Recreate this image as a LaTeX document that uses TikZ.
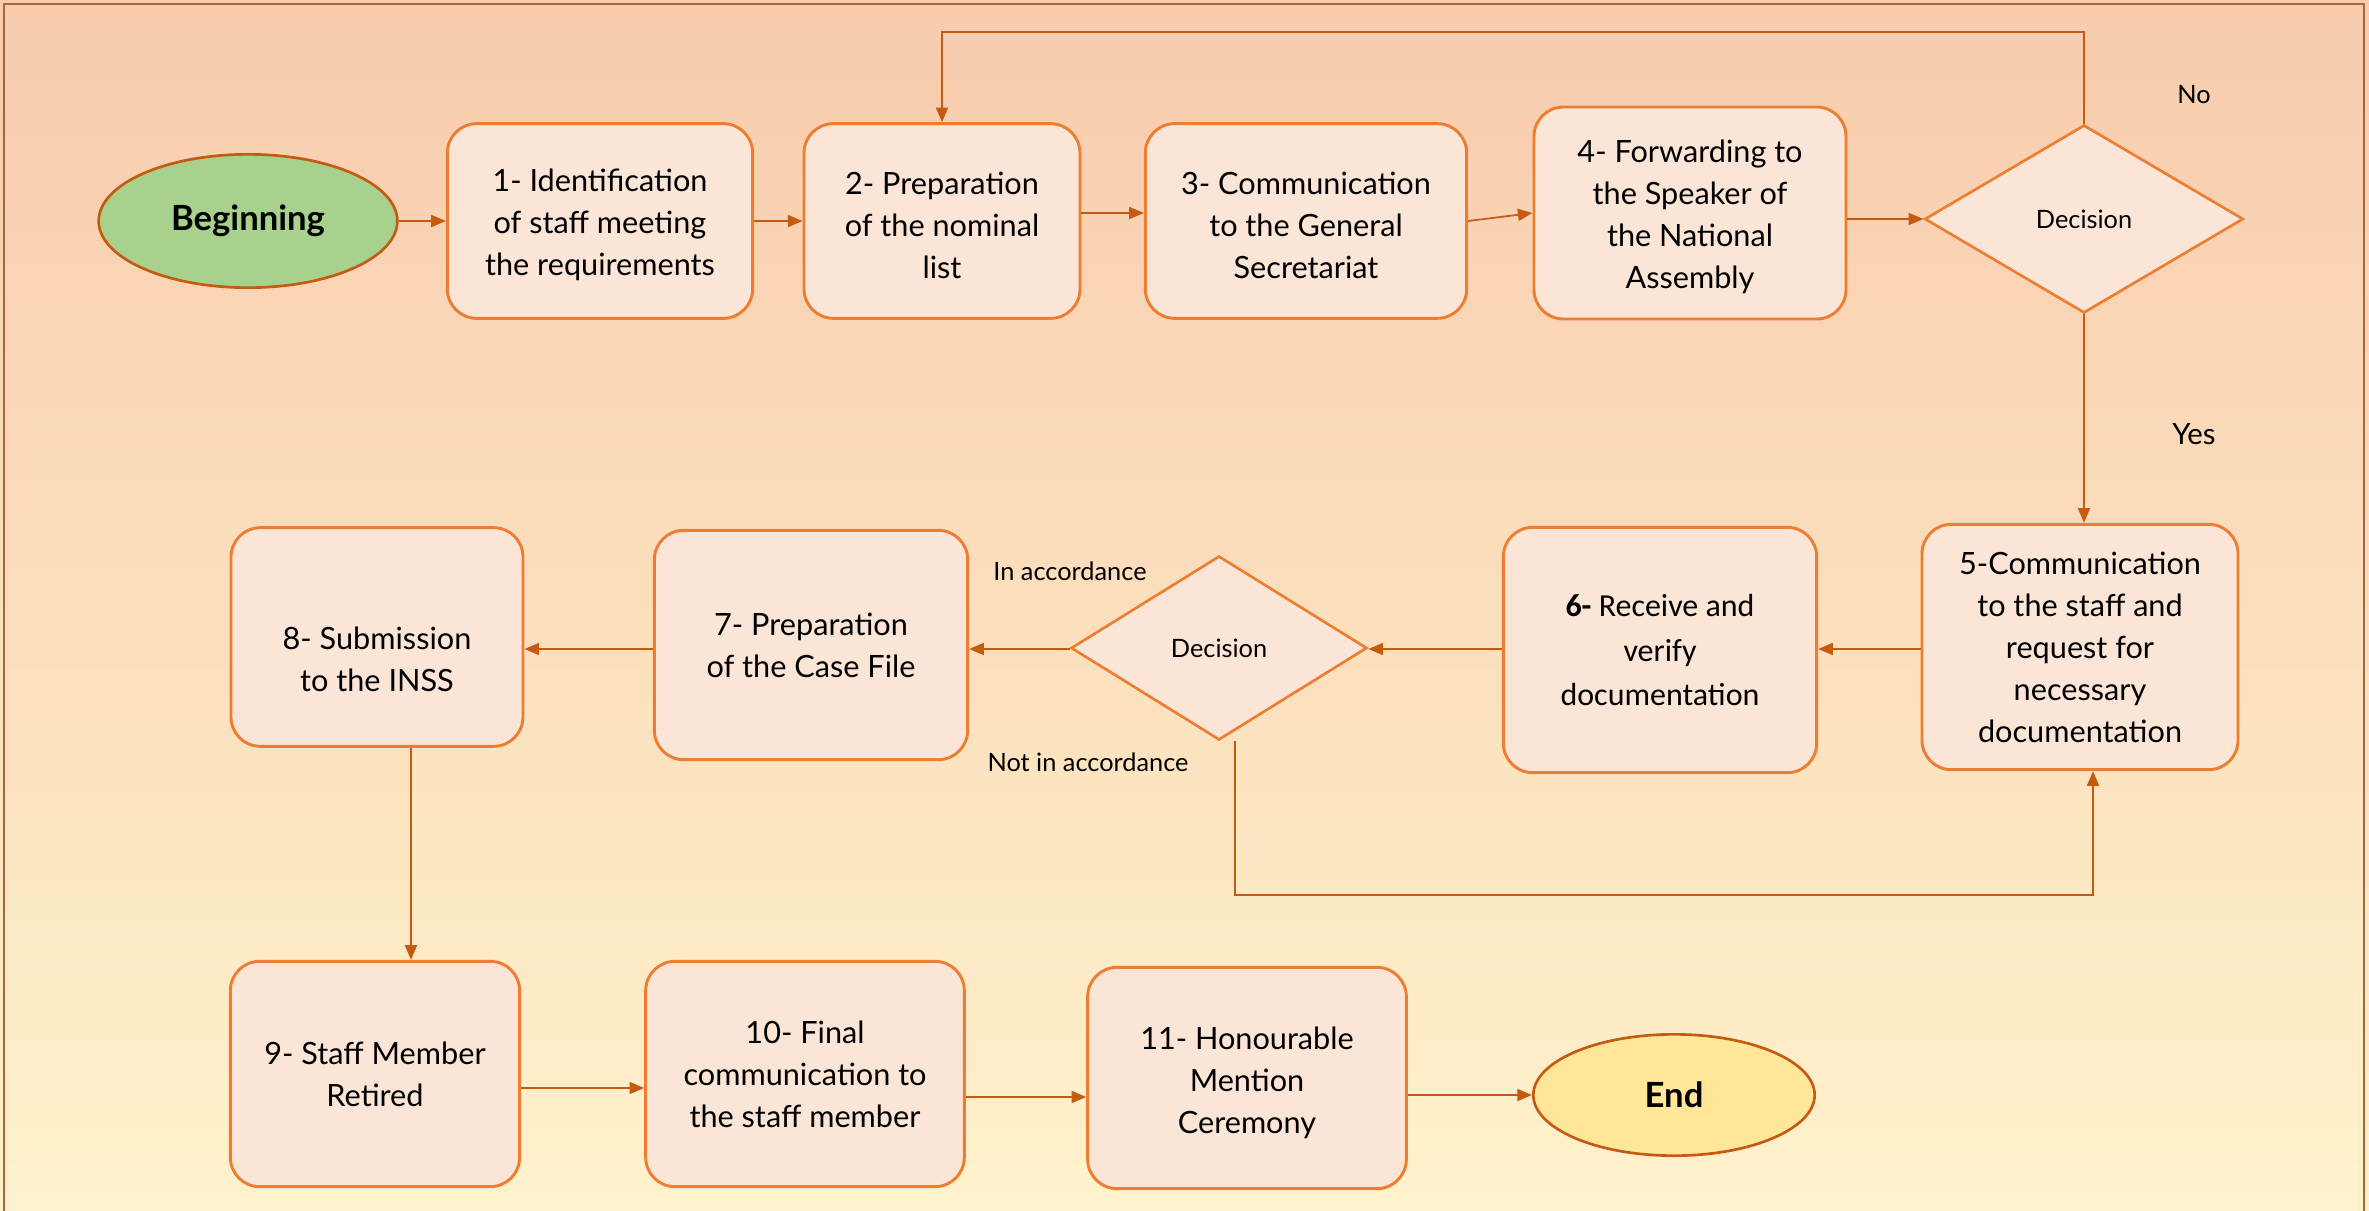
\documentclass[tikz,border=0pt]{standalone}
\usepackage{fontspec}
\setmainfont{Lato}
\newfontfamily\calfont{Carlito}
\usetikzlibrary{shapes.geometric,arrows.meta}
\definecolor{bgtop}{HTML}{F8CBAD}
\definecolor{bgbot}{HTML}{FFF2CC}
\definecolor{boxfill}{HTML}{FBE5D6}
\definecolor{boxline}{HTML}{ED7D31}
\definecolor{arr}{HTML}{C55A11}
\definecolor{gfill}{HTML}{A9D18E}
\definecolor{yfill}{HTML}{FFE699}
\definecolor{framec}{HTML}{A5663F}
\begin{document}
\begin{tikzpicture}[x=0.75pt,y=-0.75pt,
 stepbox/.style={draw=boxline, fill=boxfill, line width=2.2pt, rounded corners=22pt, align=center, font=\fontsize{23}{31.5}\selectfont, inner sep=0pt},
 steptext/.style={align=center, font=\fontsize{23}{31.5}\selectfont, inner sep=0pt},
 decbox/.style={diamond, draw=boxline, fill=boxfill, line width=2pt, font=\fontsize{19}{23}\selectfont, inner sep=0pt},
 term/.style={ellipse, draw=arr, line width=2pt, font=\fontsize{26}{30}\selectfont\bfseries, inner sep=0pt},
 conn/.style={draw=arr, line width=1.3pt, -{Triangle[length=11pt,width=9pt]}},
 lbl/.style={font=\fontsize{19}{23}\selectfont, inner sep=0pt}]
\useasboundingbox (0,0) rectangle (2369,1210);
\shade[top color=bgtop, bottom color=bgbot] (0,0) rectangle (2369,1210);
\draw[framec, line width=1.5pt] (4,1212) -- (4,4) -- (2364,4) -- (2364,1212);

% row 1
\node[term, fill=gfill, minimum width=224pt, minimum height=100pt] (beg) at (248,221) {Beginning};
\node[stepbox, minimum width=229pt, minimum height=146pt] (b1) at (600,221) {};
\node[steptext] (b1t) at (600,225) {1- Identification\\of staff meeting\\the requirements};
\node[stepbox, minimum width=207pt, minimum height=146pt] (b2) at (942,221) {};
\node[steptext] (b2t) at (942,225) {2- Preparation\\of the nominal\\list};
\node[stepbox, minimum width=241pt, minimum height=146pt] (b3) at (1306,221) {};
\node[steptext] (b3t) at (1306,225) {3- Communication\\to the General\\Secretariat};
\node[stepbox, minimum width=234pt, minimum height=159pt] (b4) at (1690,213) {};
\node[steptext] (b4t) at (1690,217) {4- Forwarding to\\the Speaker of\\the National\\Assembly};
\node[decbox, minimum width=239pt, minimum height=141pt] (d1) at (2084,219) {Decision};

% row 2
\node[stepbox, minimum width=237pt, minimum height=184pt] (b5) at (2080,647) {5-Communication\\to the staff and\\request for\\necessary\\documentation};
\node[stepbox, minimum width=235pt, minimum height=184pt, font=\calfont\fontsize{24}{33.5}\selectfont] (b6) at (1660,650) {\textbf{6-} Receive and\\verify\\documentation};
\node[decbox, minimum width=222pt, minimum height=138pt] (d2) at (1219,648) {Decision};
\node[stepbox, minimum width=235pt, minimum height=172pt] (b7) at (811,645) {7- Preparation\\of the Case File};
\node[stepbox, minimum width=219pt, minimum height=164pt] (b8) at (377,637) {};
\node[steptext] (b8t) at (377,659) {8- Submission\\to the INSS};

% row 3
\node[stepbox, minimum width=217pt, minimum height=169pt] (b9) at (375,1074) {9- Staff Member\\Retired};
\node[stepbox, minimum width=239pt, minimum height=169pt] (b10) at (805,1074) {10- Final\\communication to\\the staff member};
\node[stepbox, minimum width=239pt, minimum height=166pt] (b11) at (1247,1078) {};
\node[steptext] (b11t) at (1247,1083) {11- Honourable\\Mention\\Ceremony};
\node[term, fill=yfill, minimum width=211pt, minimum height=91pt] (end) at (1674,1095) {End};

% labels
\node[lbl] (no) at (2194,95) {No};
\node[lbl, font=\fontsize{22}{26}\selectfont] (yes) at (2194,434) {Yes};
\node[lbl] (inacc) at (1070,571) {In accordance};
\node[lbl] (notacc) at (1088,762) {Not in accordance};

% helper coordinates
\coordinate (toprow) at (0,32);
\coordinate (r2) at (0,649);
\coordinate (v89) at (411,0);
\coordinate (nx) at (1235,0);
\coordinate (ny) at (0,895);
\coordinate (n5) at (2093,0);
\coordinate (r3a) at (0,1088);
\coordinate (r3b) at (0,1097);
\coordinate (r3c) at (0,1095);

% connectors row 1
\draw[conn] (beg.east) -- (b1.west);
\draw[conn] (b1.east) -- (b2.west);
\draw[conn] ([yshift=6pt]b2.east) -- ([yshift=6pt]b3.west);
\draw[conn] (b3.east) -- (b4.west);
\draw[conn] (b4.east |- d1.west) -- (d1.west);
\draw[conn] (d1.north) -- (d1.north |- toprow) -| (b2.north);
\draw[conn] (d1.south) -- (d1.south |- b5.north);

% connectors row 2
\draw[conn] (b5.west |- r2) -- (b6.east |- r2);
\draw[conn] (b6.west |- r2) -- (d2.east |- r2);
\draw[conn] (d2.west |- r2) -- (b7.east |- r2);
\draw[conn] (b7.west |- r2) -- (b8.east |- r2);
\draw[conn] (d2.south -| nx) -- (nx |- ny) -- (n5 |- ny) -- (n5 |- b5.south);
\draw[conn] (b8.south -| v89) -- (b9.north -| v89);

% connectors row 3
\draw[conn] (b9.east |- r3a) -- (b10.west |- r3a);
\draw[conn] (b10.east |- r3b) -- (b11.west |- r3b);
\draw[conn] (b11.east |- r3c) -- (end.west);
\end{tikzpicture}
\end{document}
